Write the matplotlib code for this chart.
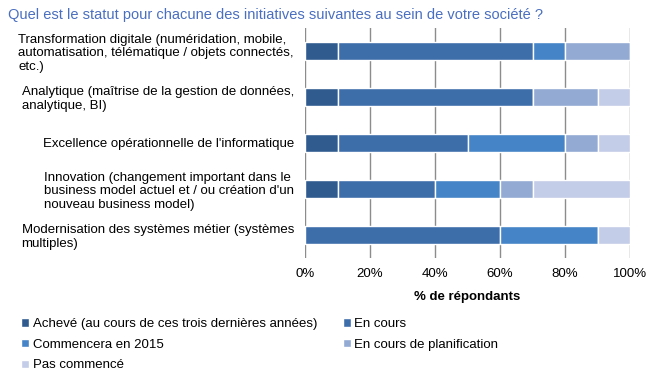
import matplotlib.pyplot as plt
import numpy as np

plt.rcParams['font.family'] = ['Liberation Sans', 'DejaVu Sans']

categories = [
    "Transformation digitale (numéridation, mobile,\nautomatisation, télématique / objets connectés,\netc.)",
    "Analytique (maîtrise de la gestion de données,\nanalytique, BI)",
    "Excellence opérationnelle de l'informatique",
    "Innovation (changement important dans le\nbusiness model actuel et / ou création d'un\nnouveau business model)",
    "Modernisation des systèmes métier (systèmes\nmultiples)",
]
series_names = [
    "Achevé (au cours de ces trois dernières années)",
    "En cours",
    "Commencera en 2015",
    "En cours de planification",
    "Pas commencé",
]
acheve = [10, 10, 10, 10, 0]
en_cours = [60, 60, 40, 30, 60]
commencera = [10, 0, 30, 20, 30]
planification = [20, 20, 10, 10, 0]
pas_commence = [0, 10, 10, 30, 10]
tick_labels = ["0%", "20%", "40%", "60%", "80%", "100%"]

colors = ["#2F5B8E", "#3D6EAA", "#4584C6", "#93AAD3", "#C4CDE7"]
series = [acheve, en_cours, commencera, planification, pas_commence]

fig = plt.figure(figsize=(6.63, 3.79), dpi=100)
ax = fig.add_axes([305 / 663, 1 - 258 / 379, 325 / 663, 230 / 379])

y = np.arange(len(categories))
left = np.zeros(len(categories))
for name, vals, c in zip(series_names, series, colors):
    ax.barh(y, vals, left=left, height=0.39, color=c, edgecolor="white",
            linewidth=1, label=name, zorder=3)
    left += np.array(vals)

ax.set_ylim(4.5, -0.5)
ax.set_xlim(0, 100)
ax.set_xticks(np.arange(0, 101, 20))
ax.set_xticklabels(tick_labels, fontsize=9.5)
ax.xaxis.grid(True, color="#8C8C8C", linewidth=1, zorder=0)
ax.set_axisbelow(True)
ax.tick_params(axis="x", length=0, pad=7)
ax.tick_params(axis="y", length=0, pad=8)
ax.set_yticks(y)
ax.set_yticklabels(categories, fontsize=9.5, linespacing=1.2)
for lbl in ax.get_yticklabels():
    lbl.set_multialignment("left")
for s in ax.spines.values():
    s.set_visible(False)
ax.set_xlabel("% de répondants", fontsize=9.5, fontweight="bold", labelpad=8)

fig.text(8 / 663, 1 - 15 / 379, "Quel est le statut pour chacune des initiatives suivantes au sein de votre société ?",
         color="#4A6FC0", fontsize=10.5, va="center")

# legend filled row by row: reorder for column-major layout
handles, labels = ax.get_legend_handles_labels()
order = [0, 2, 4, 1, 3]
fig.legend([handles[i] for i in order], [labels[i] for i in order],
           loc="upper left", bbox_to_anchor=(16 / 663, 1 - 313 / 379),
           ncol=2, frameon=False, fontsize=9.5, handlelength=0.6, handleheight=0.6,
           handletextpad=0.3, columnspacing=1.9, labelspacing=0.65, borderaxespad=0)

fig.savefig("out.png", dpi=100)
